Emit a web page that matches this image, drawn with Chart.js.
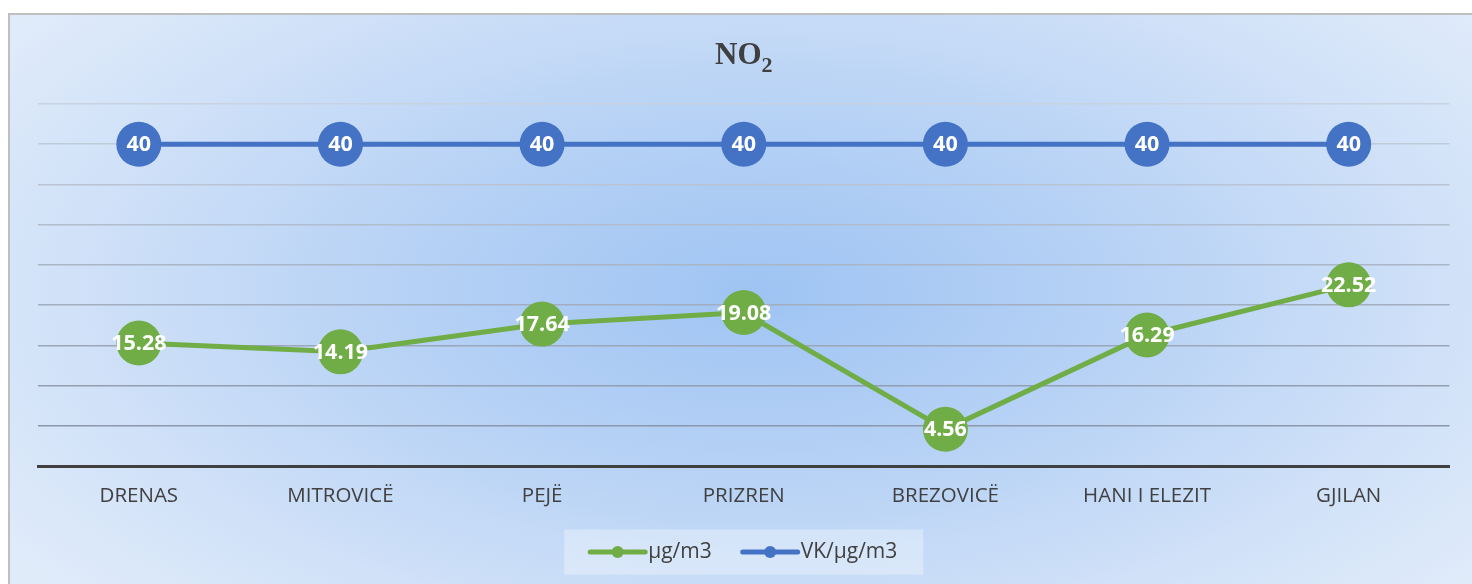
<!DOCTYPE html>
<html>
<head>
<meta charset="utf-8">
<script src="https://cdn.jsdelivr.net/npm/chart.js@4.4.1/dist/chart.umd.min.js"></script>
<style>
  html, body { margin: 0; padding: 0; background: #fff; overflow: hidden; }
  #frame {
    position: absolute; left: 8px; top: 13px; width: 1470px; height: 580px;
    border-left: 2px solid #bfbfbf; border-top: 2px solid #bfbfbf;
    background: radial-gradient(ellipse 62% 78% at 51% 48%, #9fc4f3 0%, #b7d2f5 40%, #d0e1f8 75%, #e0ebfa 100%);
  }
  #wrap { position: absolute; left: 0; top: 0; width: 1472px; height: 584px; }
</style>
</head>
<body>
<div id="frame"></div>
<div id="wrap"><canvas id="chart" width="1472" height="584"></canvas></div>
<script>
"use strict";

// ── data ──────────────────────────────────
const categories    = ["DRENAS", "MITROVICË", "PEJË", "PRIZREN", "BREZOVICË", "HANI I ELEZIT", "GJILAN"];
const concentration = [15.28, 14.19, 17.64, 19.08, 4.56, 16.29, 22.52];
const limitValue    = [40, 40, 40, 40, 40, 40, 40];
const seriesNames   = ["µg/m3", "VK/µg/m3"];
const yMin = 0, yMax = 45, yStep = 5;

const GREEN = "#70ad47";
const BLUE  = "#4472c4";
const TEXT  = "#404040";

// grid lines get darker toward the bottom
function gridColor(ctx) {
  const v = ctx.tick ? ctx.tick.value : 0;
  const t = v / yMax;                      // 0 bottom .. 1 top
  const c1 = [132, 144, 164], c2 = [200, 210, 224];
  const mix = c1.map((c, i) => Math.round(c + (c2[i] - c) * t));
  return "rgb(" + mix.join(",") + ")";
}

// ── title "NO2" with subscript ──
const titlePlugin = {
  id: "titleNO2",
  afterDraw(chart) {
    const { ctx, chartArea } = chart;
    const cx = (chartArea.left + chartArea.right) / 2;
    ctx.save();
    ctx.fillStyle = TEXT;
    ctx.textBaseline = "alphabetic";
    ctx.font = "bold 31px 'Liberation Serif'";
    const w1 = ctx.measureText("NO").width;
    ctx.font = "bold 22px 'Liberation Serif'";
    const w2 = ctx.measureText("2").width;
    const x0 = cx - (w1 + w2) / 2;
    ctx.font = "bold 31px 'Liberation Serif'";
    ctx.textAlign = "left";
    ctx.fillText("NO", x0, 64);
    ctx.font = "bold 22px 'Liberation Serif'";
    ctx.fillText("2", x0 + w1, 72);
    ctx.restore();
  }
};

// ── value labels inside the markers ──
const valueLabels = {
  id: "valueLabels",
  afterDatasetsDraw(chart) {
    const { ctx } = chart;
    ctx.save();
    ctx.fillStyle = "#fff";
    ctx.font = "bold 21.5px 'Open Sans'";
    ctx.textAlign = "center";
    ctx.textBaseline = "middle";
    chart.data.datasets.forEach((ds, i) => {
      chart.getDatasetMeta(i).data.forEach((pt, j) => {
        ctx.fillText(String(ds.data[j]), pt.x, pt.y + 1);
      });
    });
    ctx.restore();
  }
};

// ── legend: line + dot samples in a pale box ──
const legendBox = {
  id: "legendBox",
  afterDraw(chart) {
    const { ctx, chartArea } = chart;
    const cx = (chartArea.left + chartArea.right) / 2;
    const cy = 552;
    const sample = 55, gap = 3, itemGap = 31, padX = 26;
    ctx.save();
    ctx.font = "21px 'Open Sans'";
    const items = chart.data.datasets.map((ds) => ({
      label: ds.label, color: ds.borderColor, w: ctx.measureText(ds.label).width
    }));
    const inner = items.reduce((s, it) => s + sample + gap + it.w, 0) + itemGap * (items.length - 1);
    const boxW = inner + padX * 2, boxH = 45;
    const bx = cx - boxW / 2;
    ctx.fillStyle = "rgba(255,255,255,0.32)";
    ctx.fillRect(bx, cy - boxH / 2, boxW, boxH);
    let x = bx + padX;
    items.forEach((it) => {
      ctx.strokeStyle = it.color;
      ctx.lineWidth = 5;
      ctx.lineCap = "round";
      ctx.beginPath();
      ctx.moveTo(x, cy);
      ctx.lineTo(x + sample, cy);
      ctx.stroke();
      ctx.fillStyle = it.color;
      ctx.beginPath();
      ctx.arc(x + sample / 2, cy, 6, 0, Math.PI * 2);
      ctx.fill();
      ctx.fillStyle = TEXT;
      ctx.textAlign = "left";
      ctx.textBaseline = "middle";
      ctx.fillText(it.label, x + sample + gap, cy);
      x += sample + gap + it.w + itemGap;
    });
    ctx.restore();
  }
};

new Chart(document.getElementById("chart").getContext("2d"), {
  type: "line",
  data: {
    labels: categories,
    datasets: [
      {
        label: seriesNames[0],
        data: concentration,
        borderColor: GREEN,
        backgroundColor: GREEN,
        borderWidth: 5,
        pointRadius: 22.5,
        pointBorderWidth: 0,
        tension: 0,
        clip: false,
      },
      {
        label: seriesNames[1],
        data: limitValue,
        borderColor: BLUE,
        backgroundColor: BLUE,
        borderWidth: 5,
        pointRadius: 22.5,
        pointBorderWidth: 0,
        tension: 0,
        clip: false,
      },
    ],
  },
  options: {
    responsive: false,
    animation: false,
    events: [],
    layout: { padding: { left: 38, right: 20, top: 104, bottom: 0 } },
    plugins: {
      legend: { display: false },
      title: { display: false },
      tooltip: { enabled: false },
    },
    scales: {
      x: {
        offset: true,
        grid: { display: false, drawTicks: false },
        border: { display: true, color: TEXT, width: 3 },
        ticks: {
          color: TEXT,
          font: { family: "'Open Sans'", size: 20.5 },
          padding: 18,
          maxRotation: 0,
          autoSkip: false,
        },
        afterFit(scale) { scale.height = 118; },
      },
      y: {
        min: yMin,
        max: yMax,
        ticks: { stepSize: yStep, display: false },
        grid: { color: gridColor, lineWidth: 1.5, drawTicks: false },
        border: { display: false },
        afterFit(scale) { scale.width = 0; },
      },
    },
  },
  plugins: [titlePlugin, valueLabels, legendBox],
});
</script>
</body>
</html>
